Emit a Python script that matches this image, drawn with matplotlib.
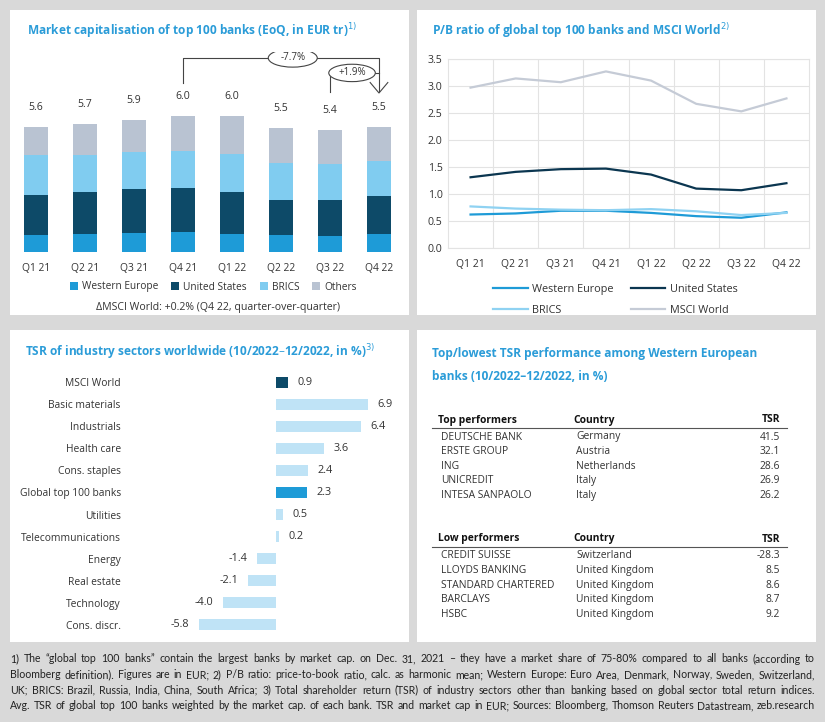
import numpy as np
import matplotlib
matplotlib.use("Agg")
import matplotlib.pyplot as plt
from matplotlib.patches import Rectangle, Ellipse
from matplotlib.lines import Line2D

plt.rcParams['font.family'] = ['Open Sans', 'DejaVu Sans']

W, H = 825, 722
BLUE = '#1e9bd7'
NAVY = '#0d4a68'
LIGHT = '#80ccf0'
GREYBL = '#b9c3d2'
PALE = '#bfe3f6'
TITLE = '#2b9cd8'
TXT = '#333333'

# ---- data ----
quarters = ['Q1 21', 'Q2 21', 'Q3 21', 'Q4 21', 'Q1 22', 'Q2 22', 'Q3 22', 'Q4 22']
cap_we = [0.78, 0.82, 0.87, 0.90, 0.82, 0.75, 0.70, 0.82]
cap_us = [1.79, 1.88, 1.94, 1.99, 1.87, 1.60, 1.64, 1.69]
cap_brics = [1.76, 1.67, 1.66, 1.64, 1.72, 1.66, 1.61, 1.55]
cap_others = [1.27, 1.39, 1.46, 1.55, 1.70, 1.55, 1.54, 1.54]
cap_total_labels = ['5.6', '5.7', '5.9', '6.0', '6.0', '5.5', '5.4', '5.5']

pb_we = [0.62, 0.64, 0.69, 0.69, 0.65, 0.59, 0.56, 0.66]
pb_us = [1.31, 1.41, 1.46, 1.47, 1.36, 1.10, 1.07, 1.20]
pb_brics = [0.77, 0.73, 0.71, 0.70, 0.72, 0.68, 0.61, 0.65]
pb_msci = [2.97, 3.14, 3.07, 3.27, 3.10, 2.67, 2.53, 2.77]

sectors = ['MSCI World', 'Basic materials', 'Industrials', 'Health care', 'Cons. staples',
           'Global top 100 banks', 'Utilities', 'Telecommunications', 'Energy',
           'Real estate', 'Technology', 'Cons. discr.']
sector_tsr = [0.9, 6.9, 6.4, 3.6, 2.4, 2.3, 0.5, 0.2, -1.4, -2.1, -4.0, -5.8]

top_banks = ['DEUTSCHE BANK', 'ERSTE GROUP', 'ING', 'UNICREDIT', 'INTESA SANPAOLO']
top_countries = ['Germany', 'Austria', 'Netherlands', 'Italy', 'Italy']
top_tsr = ['41.5', '32.1', '28.6', '26.9', '26.2']
low_banks = ['CREDIT SUISSE', 'LLOYDS BANKING', 'STANDARD CHARTERED', 'BARCLAYS', 'HSBC']
low_countries = ['Switzerland', 'United Kingdom', 'United Kingdom', 'United Kingdom', 'United Kingdom']
low_tsr = ['-28.3', '8.5', '8.6', '8.7', '9.2']

footnote = [
    '1) The \u201cglobal top 100 banks\u201d contain the largest banks by market cap. on Dec. 31, 2021 \u2013 they have a market share of 75-80% compared to all banks (according to',
    'Bloomberg definition). Figures are in EUR; 2) P/B ratio: price-to-book ratio, calc. as harmonic mean; Western Europe: Euro Area, Denmark, Norway, Sweden, Switzerland,',
    'UK; BRICS: Brazil, Russia, India, China, South Africa; 3) Total shareholder return (TSR) of industry sectors other than banking based on global sector total return indices.',
    'Avg. TSR of global top 100 banks weighted by the market cap. of each bank. TSR and market cap in EUR; Sources: Bloomberg, Thomson Reuters Datastream, zeb.research',
]


def box(x0, y0, x1, y1):
    # pixel box (top-left origin) -> figure fraction rect
    return [x0 / W, 1 - y1 / H, (x1 - x0) / W, (y1 - y0) / H]


def ftext(x, y, s, **kw):
    return fig.text(x / W, 1 - y / H, s, **kw)


fig = plt.figure(figsize=(W / 100, H / 100), dpi=100, facecolor='#d9d9d9')

for (x0, y0, x1, y1) in [(10, 10, 409, 315), (417, 10, 816, 315), (10, 330, 409, 642), (417, 330, 816, 642)]:
    fig.patches.append(Rectangle((x0 / W, 1 - y1 / H), (x1 - x0) / W, (y1 - y0) / H,
                                 transform=fig.transFigure, facecolor='white', edgecolor='none', zorder=-5))

# ---- panel 1: market cap stacked bars ----
ftext(27, 31, 'Market capitalisation of top 100 banks (EoQ, in EUR tr)$^{1)}$', color=TITLE,
      fontsize=8.6, fontweight='bold', va='center')
ax1 = fig.add_axes(box(11.5, 52, 403.5, 252))
x = np.arange(len(quarters))
bw = 0.49
b = np.zeros(len(quarters))
for vals, col, lab in [(cap_we, BLUE, 'Western Europe'), (cap_us, NAVY, 'United States'),
                       (cap_brics, LIGHT, 'BRICS'), (cap_others, GREYBL, 'Others')]:
    ax1.bar(x, vals, bw, bottom=b, color=col, label=lab)
    b = b + np.array(vals)
for xi, top, lab in zip(x, b, cap_total_labels):
    ax1.annotate(lab, (xi, top), xytext=(0, 14), textcoords='offset points', ha='center', va='center',
                 fontsize=7.6, color=TXT)
ax1.set_xlim(-0.5, 7.5)
ax1.set_ylim(0, 200 / 22.3)
ax1.set_xticks(x)
ax1.set_xticklabels(quarters, fontsize=7.4, color=TXT)
ax1.tick_params(axis='x', length=0, pad=8)
ax1.set_yticks([])
for s in ax1.spines.values():
    s.set_visible(False)
ax1.patch.set_alpha(0)
# growth brackets
lk = dict(color='#444444', lw=0.8)
ax1.plot([3, 3, 7, 7], [7.58, 8.7, 8.7, 7.2], **lk)
ax1.plot([6.82, 7, 7.18], [7.6, 7.13, 7.6], **lk)
ax1.plot([6, 6, 7], [7.17, 8.03, 8.03], **lk)
ax1.add_patch(Ellipse((5.24, 8.7), 1.0, 0.82, facecolor='white', edgecolor='#444444', lw=0.8, zorder=3))
ax1.text(5.24, 8.7, '-7.7%', ha='center', va='center', fontsize=7.0, color=TXT, zorder=4)
ax1.add_patch(Ellipse((6.45, 8.03), 0.95, 0.78, facecolor='white', edgecolor='#444444', lw=0.8, zorder=3))
ax1.text(6.45, 8.03, '+1.9%', ha='center', va='center', fontsize=7.0, color=TXT, zorder=4)
ax1.legend(loc='center', bbox_to_anchor=(0.515, -0.175), ncol=4, frameon=False, fontsize=7.3,
           handlelength=0.75, handleheight=0.75, handletextpad=0.4, columnspacing=1.3, labelcolor=TXT)
ftext(218, 307, '\u0394MSCI World: +0.2% (Q4 22, quarter-over-quarter)', ha='center', va='center',
      fontsize=7.6, color=TXT)

# ---- panel 2: P/B lines ----
ftext(432, 31, 'P/B ratio of global top 100 banks and MSCI World$^{2)}$', color=TITLE,
      fontsize=8.6, fontweight='bold', va='center')
ax2 = fig.add_axes(box(448, 59, 809, 248))
ax2.plot(x, pb_we, color=BLUE, lw=1.6, label='Western Europe')
ax2.plot(x, pb_brics, color='#8fd2f2', lw=1.6, label='BRICS')
ax2.plot(x, pb_us, color='#0b3650', lw=1.6, label='United States')
ax2.plot(x, pb_msci, color='#c5cbd6', lw=1.6, label='MSCI World')
ax2.set_xlim(-0.5, 7.5)
ax2.set_ylim(0, 3.5)
ax2.set_yticks(np.arange(0, 3.51, 0.5))
ax2.set_yticklabels(['%.1f' % v for v in np.arange(0, 3.51, 0.5)], fontsize=7.6, color=TXT)
ax2.set_xticks(x)
ax2.set_xticklabels(quarters, fontsize=7.5, color=TXT)
ax2.set_xticks(np.arange(0.5, 7, 1), minor=True)
ax2.grid(True, which='major', axis='y', color='#e3e3e3', lw=0.8)
ax2.grid(True, which='minor', axis='x', color='#e3e3e3', lw=0.8)
ax2.tick_params(which='both', length=0)
ax2.tick_params(axis='x', pad=8)
ax2.tick_params(axis='y', pad=4)
for s in ax2.spines.values():
    s.set_color('#e3e3e3')
    s.set_linewidth(0.8)
ax2.patch.set_alpha(0)
ax2.legend(loc='upper left', bbox_to_anchor=(493 / W, 1 - 284 / H), bbox_transform=fig.transFigure,
           ncol=2, frameon=False, fontsize=7.8, borderpad=0, borderaxespad=0,
           handlelength=3.2, handletextpad=0.4, columnspacing=1.6, labelspacing=0.9, labelcolor=TXT)

# ---- panel 3: TSR sectors ----
ftext(25, 352, 'TSR of industry sectors worldwide (10/2022\u201312/2022, in %)$^{3)}$', color=TITLE,
      fontsize=8.6, fontweight='bold', va='center')
ax3 = fig.add_axes(box(125, 371, 400, 636))
y = np.arange(len(sectors))
cols = [NAVY if s == 'MSCI World' else BLUE if s == 'Global top 100 banks' else PALE for s in sectors]
ax3.barh(y, sector_tsr, 0.5, color=cols)
for yi, v in zip(y, sector_tsr):
    ax3.annotate('%.1f' % v, (v, yi), xytext=(7 if v >= 0 else -7, 0), textcoords='offset points',
                 ha='left' if v >= 0 else 'right', va='center', fontsize=7.8, color=TXT)
ax3.set_ylim(len(sectors) - 0.5, -0.5)
ax3.set_xlim(-11.35, 9.32)
ax3.set_yticks(y)
ax3.set_yticklabels(sectors, fontsize=7.4, color=TXT)
ax3.tick_params(length=0, pad=3)
ax3.set_xticks([])
for s in ax3.spines.values():
    s.set_visible(False)
ax3.patch.set_alpha(0)

# ---- panel 4: table ----
ftext(432, 353, 'Top/lowest TSR performance among Western European', color=TITLE,
      fontsize=8.6, fontweight='bold', va='center')
ftext(432, 377, 'banks (10/2022\u201312/2022, in %)', color=TITLE, fontsize=8.6, fontweight='bold', va='center')


def table(y0, head, banks, countries, tsrs):
    ftext(438, y0, head, fontsize=7.4, fontweight='bold', color='#111111', va='center')
    ftext(573, y0, 'Country', fontsize=7.4, fontweight='bold', color='#111111', va='center')
    ftext(780, y0, 'TSR', fontsize=7.4, fontweight='bold', color='#111111', va='center', ha='right')
    fig.add_artist(Line2D([432 / W, 787 / W], [1 - (y0 + 8) / H] * 2, color='#555555', lw=0.8))
    for i, (bk, c, t) in enumerate(zip(banks, countries, tsrs)):
        yy = y0 + 17 + i * 14.6
        ftext(441, yy, bk, fontsize=7.4, color=TXT, va='center')
        ftext(576, yy, c, fontsize=7.4, color=TXT, va='center')
        ftext(780, yy, t, fontsize=7.4, color=TXT, va='center', ha='right')


table(420, 'Top performers', top_banks, top_countries, top_tsr)
table(539, 'Low performers', low_banks, low_countries, low_tsr)

# ---- footnote, justified between x=10 and x=815 ----
renderer = fig.canvas.get_renderer()
for i, line in enumerate(footnote):
    yy = 659 + i * 15.6
    words = line.split(' ')
    ts = [ftext(0, yy, wd, fontsize=7.6, color='#222222', va='center', family=['Lato', 'DejaVu Sans'])
          for wd in words]
    widths = [t.get_window_extent(renderer).width for t in ts]
    gap = (805 - sum(widths)) / (len(words) - 1)
    xx = 10
    for t, wdt in zip(ts, widths):
        t.set_x(xx / W)
        xx += wdt + gap

fig.savefig('out.png', dpi=100, facecolor=fig.get_facecolor())
